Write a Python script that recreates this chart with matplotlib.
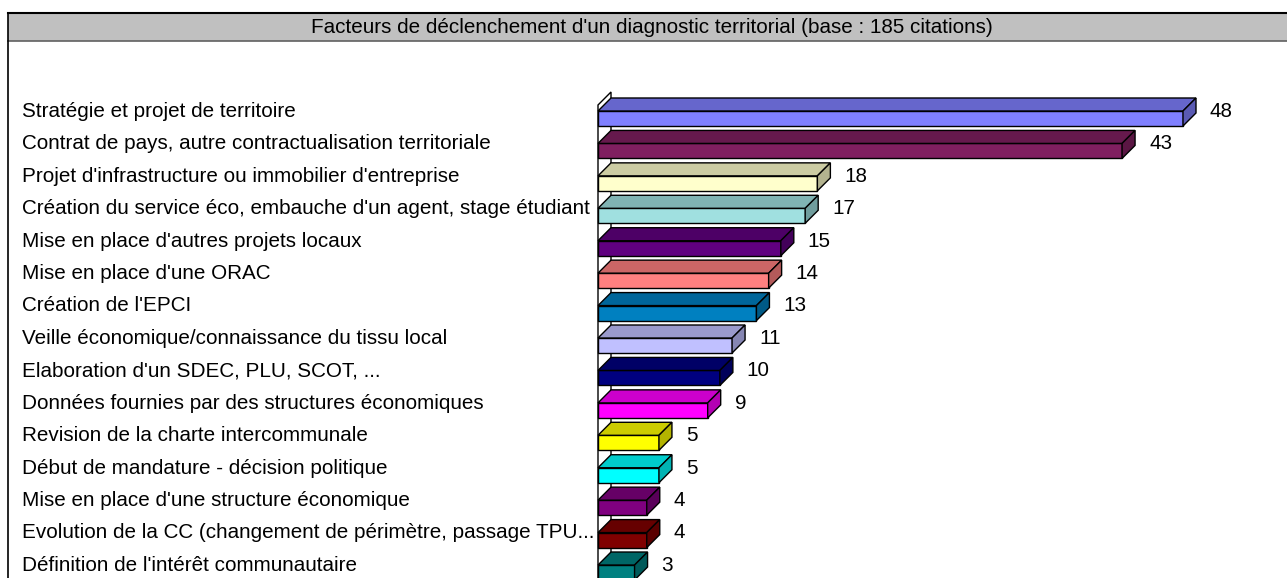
import matplotlib
matplotlib.use("Agg")
import matplotlib.pyplot as plt
from matplotlib.patches import Polygon, Rectangle
from matplotlib.lines import Line2D
from matplotlib.colors import to_rgb

plt.rcParams['font.family'] = ['Liberation Sans', 'DejaVu Sans']

title = "Facteurs de déclenchement d'un diagnostic territorial (base : 185 citations)"
categories = [
    "Stratégie et projet de territoire",
    "Contrat de pays, autre contractualisation territoriale",
    "Projet d'infrastructure ou immobilier d'entreprise",
    "Création du service éco, embauche d'un agent, stage étudiant",
    "Mise en place d'autres projets locaux",
    "Mise en place d'une ORAC",
    "Création de l'EPCI",
    "Veille économique/connaissance du tissu local",
    "Elaboration d'un SDEC, PLU, SCOT, ...",
    "Données fournies par des structures économiques",
    "Revision de la charte intercommunale",
    "Début de mandature - décision politique",
    "Mise en place d'une structure économique",
    "Evolution de la CC (changement de périmètre, passage TPU...",
    "Définition de l'intérêt communautaire",
]
values = [48, 43, 18, 17, 15, 14, 13, 11, 10, 9, 5, 5, 4, 4, 3]
colors = ["#8080FF", "#801F60", "#FFFFCC", "#A0E0E0", "#600080", "#FF8080",
          "#0080C0", "#C0C0FF", "#000080", "#FF00FF", "#FFFF00", "#00FFFF",
          "#800080", "#800000", "#008080"]

W, H = 1287, 578
fig = plt.figure(figsize=(W / 100, H / 100), dpi=100)

# frame / title bar in pixel coords
bg = fig.add_axes([0, 0, 1, 1])
bg.set_xlim(0, W)
bg.set_ylim(H, 0)
bg.axis('off')
bg.add_patch(Rectangle((8, 13), W - 8, 28, facecolor='#C0C0C0', edgecolor='none'))
bg.add_line(Line2D([8, W], [13, 13], color='black', lw=1.5))
bg.add_line(Line2D([8, W], [40.5, 40.5], color='#606060', lw=1.2))
bg.add_line(Line2D([8, 8], [13, H], color='black', lw=1.2))
bg.text(652, 27.5, title, ha='center', va='center', fontsize=14.9, color='black')

# bar axes
left_px, right_px = 598, 1183
top_px = 80
ax = fig.add_axes([left_px / W, 0, (right_px - left_px) / W, (H - top_px) / H])
row_h = 32.43
c0 = 118.5
ax.set_xlim(0, 48)
ax.set_ylim((H - c0) / row_h, (top_px - c0) / row_h)
ax.axis('off')

pxu = (right_px - left_px) / 48.0
dx = 13 / pxu
dy = 13 / row_h
h = 15 / row_h

# left wall
yw_front = (105 - c0) / row_h
yw_back = (92 - c0) / row_h
ybot = (H - c0) / row_h + 1
ax.add_patch(Polygon([(0, yw_front), (dx, yw_back), (dx, ybot), (0, ybot)],
                     closed=True, facecolor='white', edgecolor='black', lw=1,
                     clip_on=False, zorder=1))

def shade(c, f):
    r, g, b = to_rgb(c)
    return (r * f, g * f, b * f)

pos = list(range(len(values)))
bars = ax.barh(pos, values, height=h, left=0, color=colors, edgecolor='black',
               linewidth=1, zorder=3)
for b in bars:
    b.set_clip_on(False)
for i, (v, c) in enumerate(zip(values, colors)):
    yt = i - h / 2
    yb = i + h / 2
    ax.add_patch(Polygon([(0, yt), (v, yt), (v + dx, yt - dy), (dx, yt - dy)],
                         closed=True, facecolor=shade(c, 0.8), edgecolor='black',
                         lw=1, zorder=3, clip_on=False))
    ax.add_patch(Polygon([(v, yt), (v + dx, yt - dy), (v + dx, yb - dy), (v, yb)],
                         closed=True, facecolor=shade(c, 0.7), edgecolor='black',
                         lw=1, zorder=3, clip_on=False))
    ax.text(v + dx + 14 / pxu, i - 0.22, str(v), ha='left', va='center',
            fontsize=14.9, color='black', clip_on=False)
    ax.text((22 - left_px) / pxu, i - 0.22, categories[i], ha='left', va='center',
            fontsize=14.9, color='black', clip_on=False)

fig.savefig("out.png", dpi=100)
